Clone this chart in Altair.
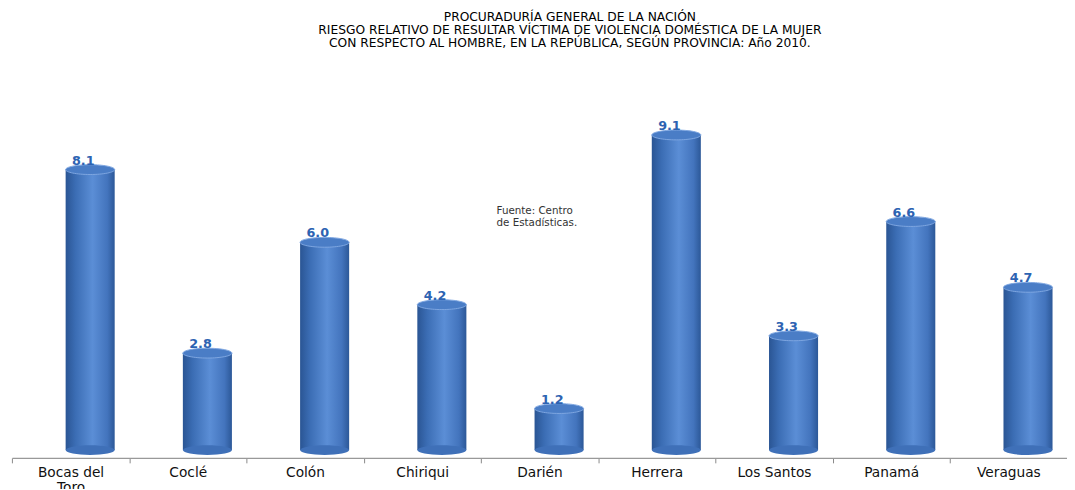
import altair as alt
import pandas as pd

provinces = ["Bocas del Toro", "Coclé", "Colón", "Chiriqui", "Darién",
             "Herrera", "Los Santos", "Panamá", "Veraguas"]
values = [8.1, 2.8, 6.0, 4.2, 1.2, 9.1, 3.3, 6.6, 4.7]
title_lines = [
    "PROCURADURÍA GENERAL DE LA NACIÓN",
    "RIESGO RELATIVO DE RESULTAR VÍCTIMA DE VIOLENCIA DOMÉSTICA DE LA MUJER",
    "CON RESPECTO AL HOMBRE, EN LA REPÚBLICA, SEGÚN PROVINCIA: Año 2010.",
]
note_lines = ["Fuente: Centro", "de Estadísticas."]

df = pd.DataFrame({"prov": provinces, "val": values})
df["label"] = df["val"].map(lambda v: f"{v:.1f}")
df["zero"] = 0.0

FONT = "DejaVu Sans"
ELLIPSE = "M -1 0 A 1 0.2 0 1 0 1 0 A 1 0.2 0 1 0 -1 0 Z"

bar_grad = alt.Gradient(
    gradient="linear", x1=0, x2=1, y1=0, y2=0,
    stops=[
        alt.GradientStop(offset=0, color="#2a5594"),
        alt.GradientStop(offset=0.2, color="#3b6db4"),
        alt.GradientStop(offset=0.55, color="#5b8ed6"),
        alt.GradientStop(offset=0.85, color="#4374bd"),
        alt.GradientStop(offset=1, color="#2c5898"),
    ],
)

x_enc = alt.X(
    "prov:N", sort=provinces, title=None,
    scale=alt.Scale(paddingInner=0, paddingOuter=0),
    axis=alt.Axis(
        labelAngle=0, labelFont=FONT, labelFontSize=14, labelColor="#111",
        labelPadding=3, labelLineHeight=15.5, labelBaseline="top", offset=3,
        labelExpr="datum.label == 'Bocas del Toro' ? ['Bocas del', 'Toro'] : datum.label",
        tickBand="extent", tickSize=5, tickColor="#888", domainColor="#999",
        domainWidth=1.2, grid=False,
    ),
)
y_enc = alt.Y("val:Q", scale=alt.Scale(domain=[0, 10], nice=False), axis=None)
y0_enc = alt.Y("zero:Q", scale=alt.Scale(domain=[0, 10], nice=False), axis=None)

base = alt.Chart(df)

bars = base.mark_bar(width=50, xOffset=20, yOffset=-5, color=bar_grad).encode(
    x=x_enc, y=y_enc
)

bottom = base.mark_point(
    shape=ELLIPSE, size=2500, filled=True, opacity=1, xOffset=20, yOffset=-5,
    color="#3f70b8",
).encode(x=x_enc, y=y0_enc)

top = base.mark_point(
    shape=ELLIPSE, size=2500, filled=True, opacity=1, xOffset=20, yOffset=-5,
    fill="#4a7dc6", stroke="#7ea6e0", strokeWidth=1,
).encode(x=x_enc, y=y_enc)

labels = base.mark_text(
    font=FONT, fontSize=13, fontWeight="bold", color="#2d63b2",
    xOffset=13, dy=-10, baseline="alphabetic",
).encode(x=x_enc, y=y_enc, text="label:N")

note = alt.Chart(pd.DataFrame({"t": ["\n".join(note_lines)]})).mark_text(
    font=FONT, fontSize=10.5, color="#333", align="left", baseline="top",
    lineBreak="\n", lineHeight=12.5,
).encode(x=alt.value(494), y=alt.value(99), text="t:N")

chart = alt.layer(bars, bottom, top, labels, note).properties(
    width=1075.5, height=353,
    autosize=alt.AutoSizeParams(type="none"),
    padding={"left": 4, "top": 98, "right": 0, "bottom": 30},
    title=alt.TitleParams(
        text=title_lines, font=FONT, fontSize=12.5, fontWeight="normal",
        color="#000", lineHeight=13.5, anchor="middle", frame="group",
        offset=47, dx=31, baseline="bottom",
    ),
).configure(background="white").configure_view(stroke=None)

chart.save("out.html", embed_options={"renderer": "svg", "actions": False})
